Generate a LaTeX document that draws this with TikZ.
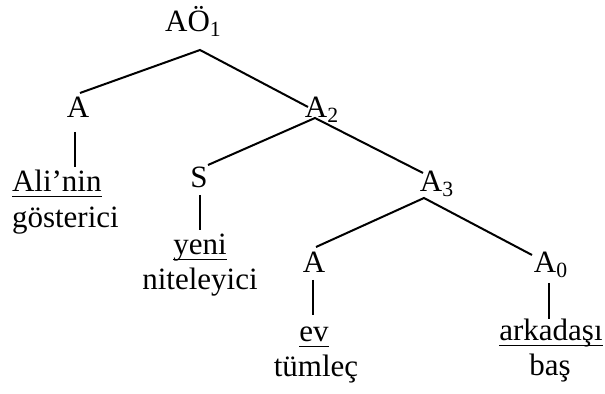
\documentclass[tikz,border=0pt]{standalone}
\usepackage{fontspec}
\setmainfont{Liberation Serif}
\newcommand\undl[1]{\vtop{\hbox{\raisebox{0pt}[\height][0pt]{#1}}\kern1.9pt\hrule height0.8pt}}
\begin{document}
\begin{tikzpicture}[x=0.5pt,y=-0.5pt,
  lbl/.style={inner sep=0pt,outer sep=0pt,anchor=base,font=\fontsize{15.5}{18.6}\selectfont},
  edge/.style={line width=1pt,line cap=butt}]
\useasboundingbox (0,0) rectangle (605,394);
% category nodes
\node[lbl] (aoi) at (193.5,32) {AÖ\textsubscript{1}};
\node[lbl] (a1) at (78,118) {A};
\node[lbl] (a2) at (322,118) {A\textsubscript{2}};
\node[lbl] (s) at (199,188) {S};
\node[lbl] (a3) at (437,192) {A\textsubscript{3}};
\node[lbl] (a4) at (314,273) {A};
\node[lbl] (a0) at (551,273) {A\textsubscript{0}};
% word nodes
\node[lbl,anchor=base west] (ali) at (12,192) {\undl{Ali’nin}};
\node[lbl,anchor=base west] (gos) at (12,228) {gösterici};
\node[lbl] (yeni) at (200,255) {\undl{yeni}};
\node[lbl] (nit) at (200,290) {niteleyici};
\node[lbl] (ev) at (314,342) {\undl{ev}};
\node[lbl] (tum) at (316,377) {tümleç};
\node[lbl] (ark) at (551,341) {\undl{arkadaşı}};
\node[lbl] (bas) at (550,376) {baş};
% connector ends
\coordinate (aoi-b) at (200,50);
\coordinate (a1-t) at (80,93);
\coordinate (a2-t) at (308,107);
\coordinate (a1-b) at (75,132);
\coordinate (ali-t) at (75,167);
\coordinate (a2-b) at (315,118);
\coordinate (s-t) at (208,165);
\coordinate (a3-t) at (423,173);
\coordinate (s-b) at (200,195);
\coordinate (yeni-t) at (200,230);
\coordinate (a3-b) at (424,198);
\coordinate (a4-t) at (316,247);
\coordinate (a0-t) at (532,255);
\coordinate (a4-b) at (313,280);
\coordinate (ev-t) at (313,315);
\coordinate (a0-b) at (549,283);
\coordinate (ark-t) at (549,319);
% connectors
\draw[edge] (a1-t) -- (aoi-b) -- (a2-t);
\draw[edge] (a1-b) -- (ali-t);
\draw[edge] (s-t) -- (a2-b) -- (a3-t);
\draw[edge] (s-b) -- (yeni-t);
\draw[edge] (a4-t) -- (a3-b) -- (a0-t);
\draw[edge] (a4-b) -- (ev-t);
\draw[edge] (a0-b) -- (ark-t);
\end{tikzpicture}
\end{document}
